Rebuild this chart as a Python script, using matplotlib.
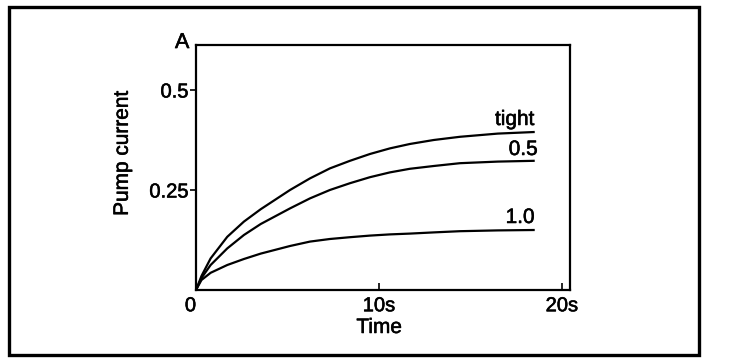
import matplotlib
matplotlib.use("Agg")
import matplotlib.pyplot as plt
import matplotlib.patheffects as pe
from matplotlib.patches import Rectangle

plt.rcParams['font.family'] = ['Liberation Sans', 'DejaVu Sans']

# --- data (time in s, pump current in A) ---
time = [0, 0.3, 0.80, 1.71, 2.62, 3.54, 5.14, 6.23, 7.32, 8.42, 9.51,
        10.60, 11.69, 13.0, 14.43, 16.5, 18.52]
tight = [0, 0.035, 0.079, 0.133, 0.171, 0.202, 0.250, 0.279, 0.304, 0.323, 0.340,
         0.354, 0.365, 0.375, 0.383, 0.391, 0.395]
half = [0, 0.030, 0.0625, 0.104, 0.1375, 0.165, 0.204, 0.229, 0.250, 0.267, 0.282,
        0.294, 0.303, 0.310, 0.317, 0.321, 0.323]
one = [0, 0.025, 0.043, 0.0625, 0.0775, 0.091, 0.110, 0.121, 0.1275, 0.132, 0.136,
       0.139, 0.141, 0.144, 0.147, 0.149, 0.150]
curve_labels = ['tight', '0.5', '1.0']
label_x = [18.52, 18.69, 18.52]
label_y = [0.4125, 0.3375, 0.1675]

x_ticks = [0, 10, 20]
x_ticklabels = ['0', '10s', '20s']
y_ticks = [0.25, 0.5]
y_ticklabels = ['0.25', '0.5']

# scanned look: slightly heavier text
heavy = [pe.withStroke(linewidth=0.4, foreground='black')]

fig = plt.figure(figsize=(7.36, 3.64), dpi=100)

# outer frame round the whole panel
fig.patches.append(Rectangle((0.0122, 0.0247), 0.9375, 0.956, transform=fig.transFigure,
                             fill=False, edgecolor='black', linewidth=2.4))

ax = fig.add_axes([0.2663, 0.2033, 0.5082, 0.6731])
for series in (tight, half, one):
    ax.plot(time, series, color='black', linewidth=1.6, solid_capstyle='butt',
            solid_joinstyle='round')

for lab, lx, ly in zip(curve_labels, label_x, label_y):
    ax.text(lx, ly, lab, ha='right', va='baseline', fontsize=15, path_effects=heavy)

ax.set_xlim(0, 20.45)
ax.set_ylim(0, 0.6125)

ax.set_xticks(x_ticks)
ax.set_xticklabels(x_ticklabels)
ax.set_yticks(y_ticks)
ax.set_yticklabels(y_ticklabels)
ax.tick_params(axis='x', direction='in', length=5, width=1.2, pad=4.5, labelsize=14.5)
ax.tick_params(axis='y', direction='out', length=4, width=1.2, pad=1.5, labelsize=14.5)
ax.get_xticklabels()[0].set_ha('right')
for t in ax.get_xticklabels() + ax.get_yticklabels():
    t.set_path_effects(heavy)

for sp in ax.spines.values():
    sp.set_linewidth(1.6)

ax.text(0.49, -0.153, 'Time', transform=ax.transAxes, ha='center', va='center',
        fontsize=15, path_effects=heavy)
ax.text(-0.197, 0.559, 'Pump current', transform=ax.transAxes, rotation=90,
        ha='center', va='center', fontsize=15, path_effects=heavy)
ax.text(-0.037, 1.01, 'A', transform=ax.transAxes, ha='center', va='center',
        fontsize=15.5, path_effects=heavy)

fig.savefig('out.png', dpi=100)
